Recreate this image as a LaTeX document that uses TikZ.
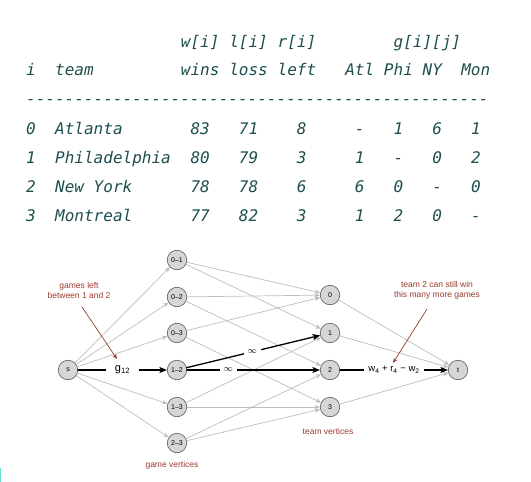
\documentclass[tikz,border=0pt]{standalone}
\usepackage{fontspec}
\setsansfont{Liberation Sans}
\newfontfamily\tabfont{DejaVu Sans Mono}
\usetikzlibrary{arrows.meta}
\definecolor{tabcol}{HTML}{1E4E4E}
\definecolor{edgecol}{HTML}{BDBDBD}
\definecolor{notecol}{HTML}{9A3A2E}
\definecolor{vfill}{HTML}{D6D6D6}
\definecolor{vline}{HTML}{5A5A5A}
\definecolor{glitch}{HTML}{5FE0D8}

\begin{document}
\begin{tikzpicture}[x=1pt,y=-1pt,line cap=round,line join=round,
  cell/.style={anchor=base west,inner sep=0pt,text=tabcol,
    font=\tabfont\itshape\fontsize{16}{16}\selectfont},
  vertex/.style={circle,draw=vline,fill=vfill,line width=0.6pt,minimum size=19.5pt,
    inner sep=0pt,font=\sffamily\fontsize{7}{7}\selectfont},
  thin edge/.style={draw=edgecol,line width=0.7pt,-{Stealth[length=5.5pt,width=4.5pt]}},
  thick edge/.style={draw=black,line width=1.3pt,-{Stealth[length=7.5pt,width=6pt,inset=1.5pt]}},
  note/.style={text=notecol,font=\sffamily\fontsize{8.5}{10.5}\selectfont,align=center,inner sep=0pt},
  note arrow/.style={draw=notecol,line width=0.7pt,-{Stealth[length=5pt,width=4pt]}},
  lbl/.style={fill=white,inner xsep=4pt,inner ysep=1pt,font=\sffamily\fontsize{9}{9}\selectfont}]

  \useasboundingbox (0,0) rectangle (531,482);
  \fill[glitch] (0,468) rectangle (1.2,482);

  \foreach \c/\txt in {16/w[i],21/l[i],26/r[i],38/g[i][j]}
    \node[cell] (top\c) at ({26+9.67*\c},47) {\txt};
  \foreach \c/\txt in {0/i,3/team,16/wins,21/loss,26/left,33/Atl,37/Phi,41/NY,45/Mon}
    \node[cell] (head\c) at ({26+9.67*\c},75) {\txt};
  \node[cell] (rule) at (26,104) {\foreach \n in {1,...,48}{-\kern0pt}};
  \foreach \idx/\team/\nw/\nl/\nr/\ga/\gb/\gc/\gd [count=\k from 0] in
      {0/Atlanta/83/71/8/-/1/6/1, 1/Philadelphia/80/79/3/1/-/0/2,
       2/New York/78/78/6/6/0/-/0, 3/Montreal/77/82/3/1/2/0/-}
    \foreach \c/\v in {0/\idx,3/\team,17/\nw,22/\nl,28/\nr,34/\ga,38/\gb,42/\gc,46/\gd}
      \node[cell] (row\idx-\c) at ({26+9.67*\c},{134+29*\k}) {\v};

  \node[vertex] (s) at (68,370) {s};
  \foreach \a/\b/\y in {0/1/260,0/2/297,0/3/333,1/2/370,1/3/407,2/3/443}
    \node[vertex] (g\a\b) at (177,\y) {\a\textendash\b};
  \foreach \j/\y in {0/295,1/333,2/370,3/407}
    \node[vertex] (v\j) at (330,\y) {\j};
  \node[vertex] (t) at (458,370) {t};

  \foreach \a/\b in {0/1,0/2,0/3,1/3,2/3} {
    \draw[thin edge] (s) -- (g\a\b);
    \draw[thin edge] (g\a\b) -- (v\a);
    \draw[thin edge] (g\a\b) -- (v\b);
  }
  \foreach \j in {0,1,3}
    \draw[thin edge] (v\j) -- (t);

  \draw[thick edge] (s) -- node[lbl,inner xsep=9pt,font=\sffamily\fontsize{11}{11}\selectfont]
    {g\textsubscript{12}} (g12);
  \draw[thick edge] (g12) -- node[lbl,pos=0.49] {$\infty$} (v1);
  \draw[thick edge] (g12) -- node[lbl,pos=0.31] {$\infty$} (v2);
  \draw[thick edge] (v2) -- node[lbl,pos=0.5,font=\sffamily\fontsize{9.5}{9.5}\selectfont]
    {w\textsubscript{4} + r\textsubscript{4} − w\textsubscript{2}} (t);

  \node[note] (leftnote) at (79,290.5) {games left\\between 1 and 2};
  \node[note] (rightnote) at (437,290.5) {team 2 can still win\\this many more games};
  \coordinate (leftfrom) at (82,307);
  \coordinate (leftto) at (117,359);
  \coordinate (rightfrom) at (427,309);
  \coordinate (rightto) at (393,363);
  \draw[note arrow] (leftfrom) -- (leftto);
  \draw[note arrow] (rightfrom) -- (rightto);
  \node[note] (gamelabel) at (172,465) {game vertices};
  \node[note] (teamlabel) at (328,431) {team vertices};

\end{tikzpicture}
\end{document}
